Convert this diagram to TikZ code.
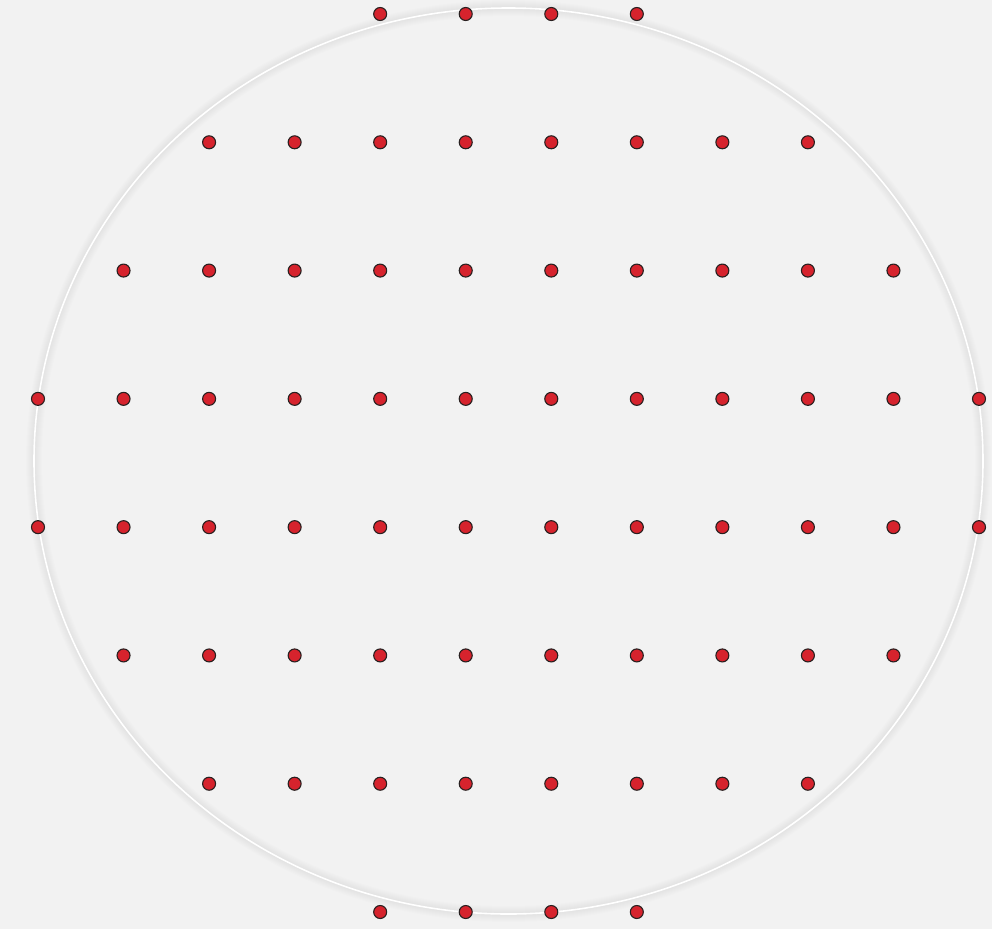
\documentclass[tikz,border=0pt]{standalone}
\begin{document}
\begin{tikzpicture}[x=1pt,y=-1pt,
  dot/.style={circle,fill={rgb,255:red,214;green,35;blue,45},draw={rgb,255:red,40;green,32;blue,32},line width=1.1pt,minimum size=13pt,inner sep=0pt},
  ring/.style={draw=white,line width=1.6pt}]
\definecolor{bg}{HTML}{F2F2F2}
\fill[bg] (0,0) rectangle (992,929);
\useasboundingbox (0,0) rectangle (992,929);
\foreach \k in {1,...,8}{
  \draw[black,opacity=0.006,line width={2*\k pt}] (508.5,461) ellipse [x radius=474.5, y radius=453];
}
\fill[bg,opacity=0.0] (508.5,461) ellipse [x radius=474.5, y radius=453];
\begin{scope}
\clip (0,0) rectangle (992,929) (508.5,461) ellipse [x radius=475.5, y radius=454];
\end{scope}
\draw[ring] (508.5,461) ellipse [x radius=474.5, y radius=453];
% rows: row index, first column, last column
\foreach \r/\a/\b in {0/4/7,1/2/9,2/1/10,3/0/11,4/0/11,5/1/10,6/2/9,7/4/7}{
  \foreach \c in {\a,...,\b}{
    \node[dot] (d-\r-\c) at ({38+85.545*\c},{14+128.286*\r}) {};
  }
}
\end{tikzpicture}
\end{document}
